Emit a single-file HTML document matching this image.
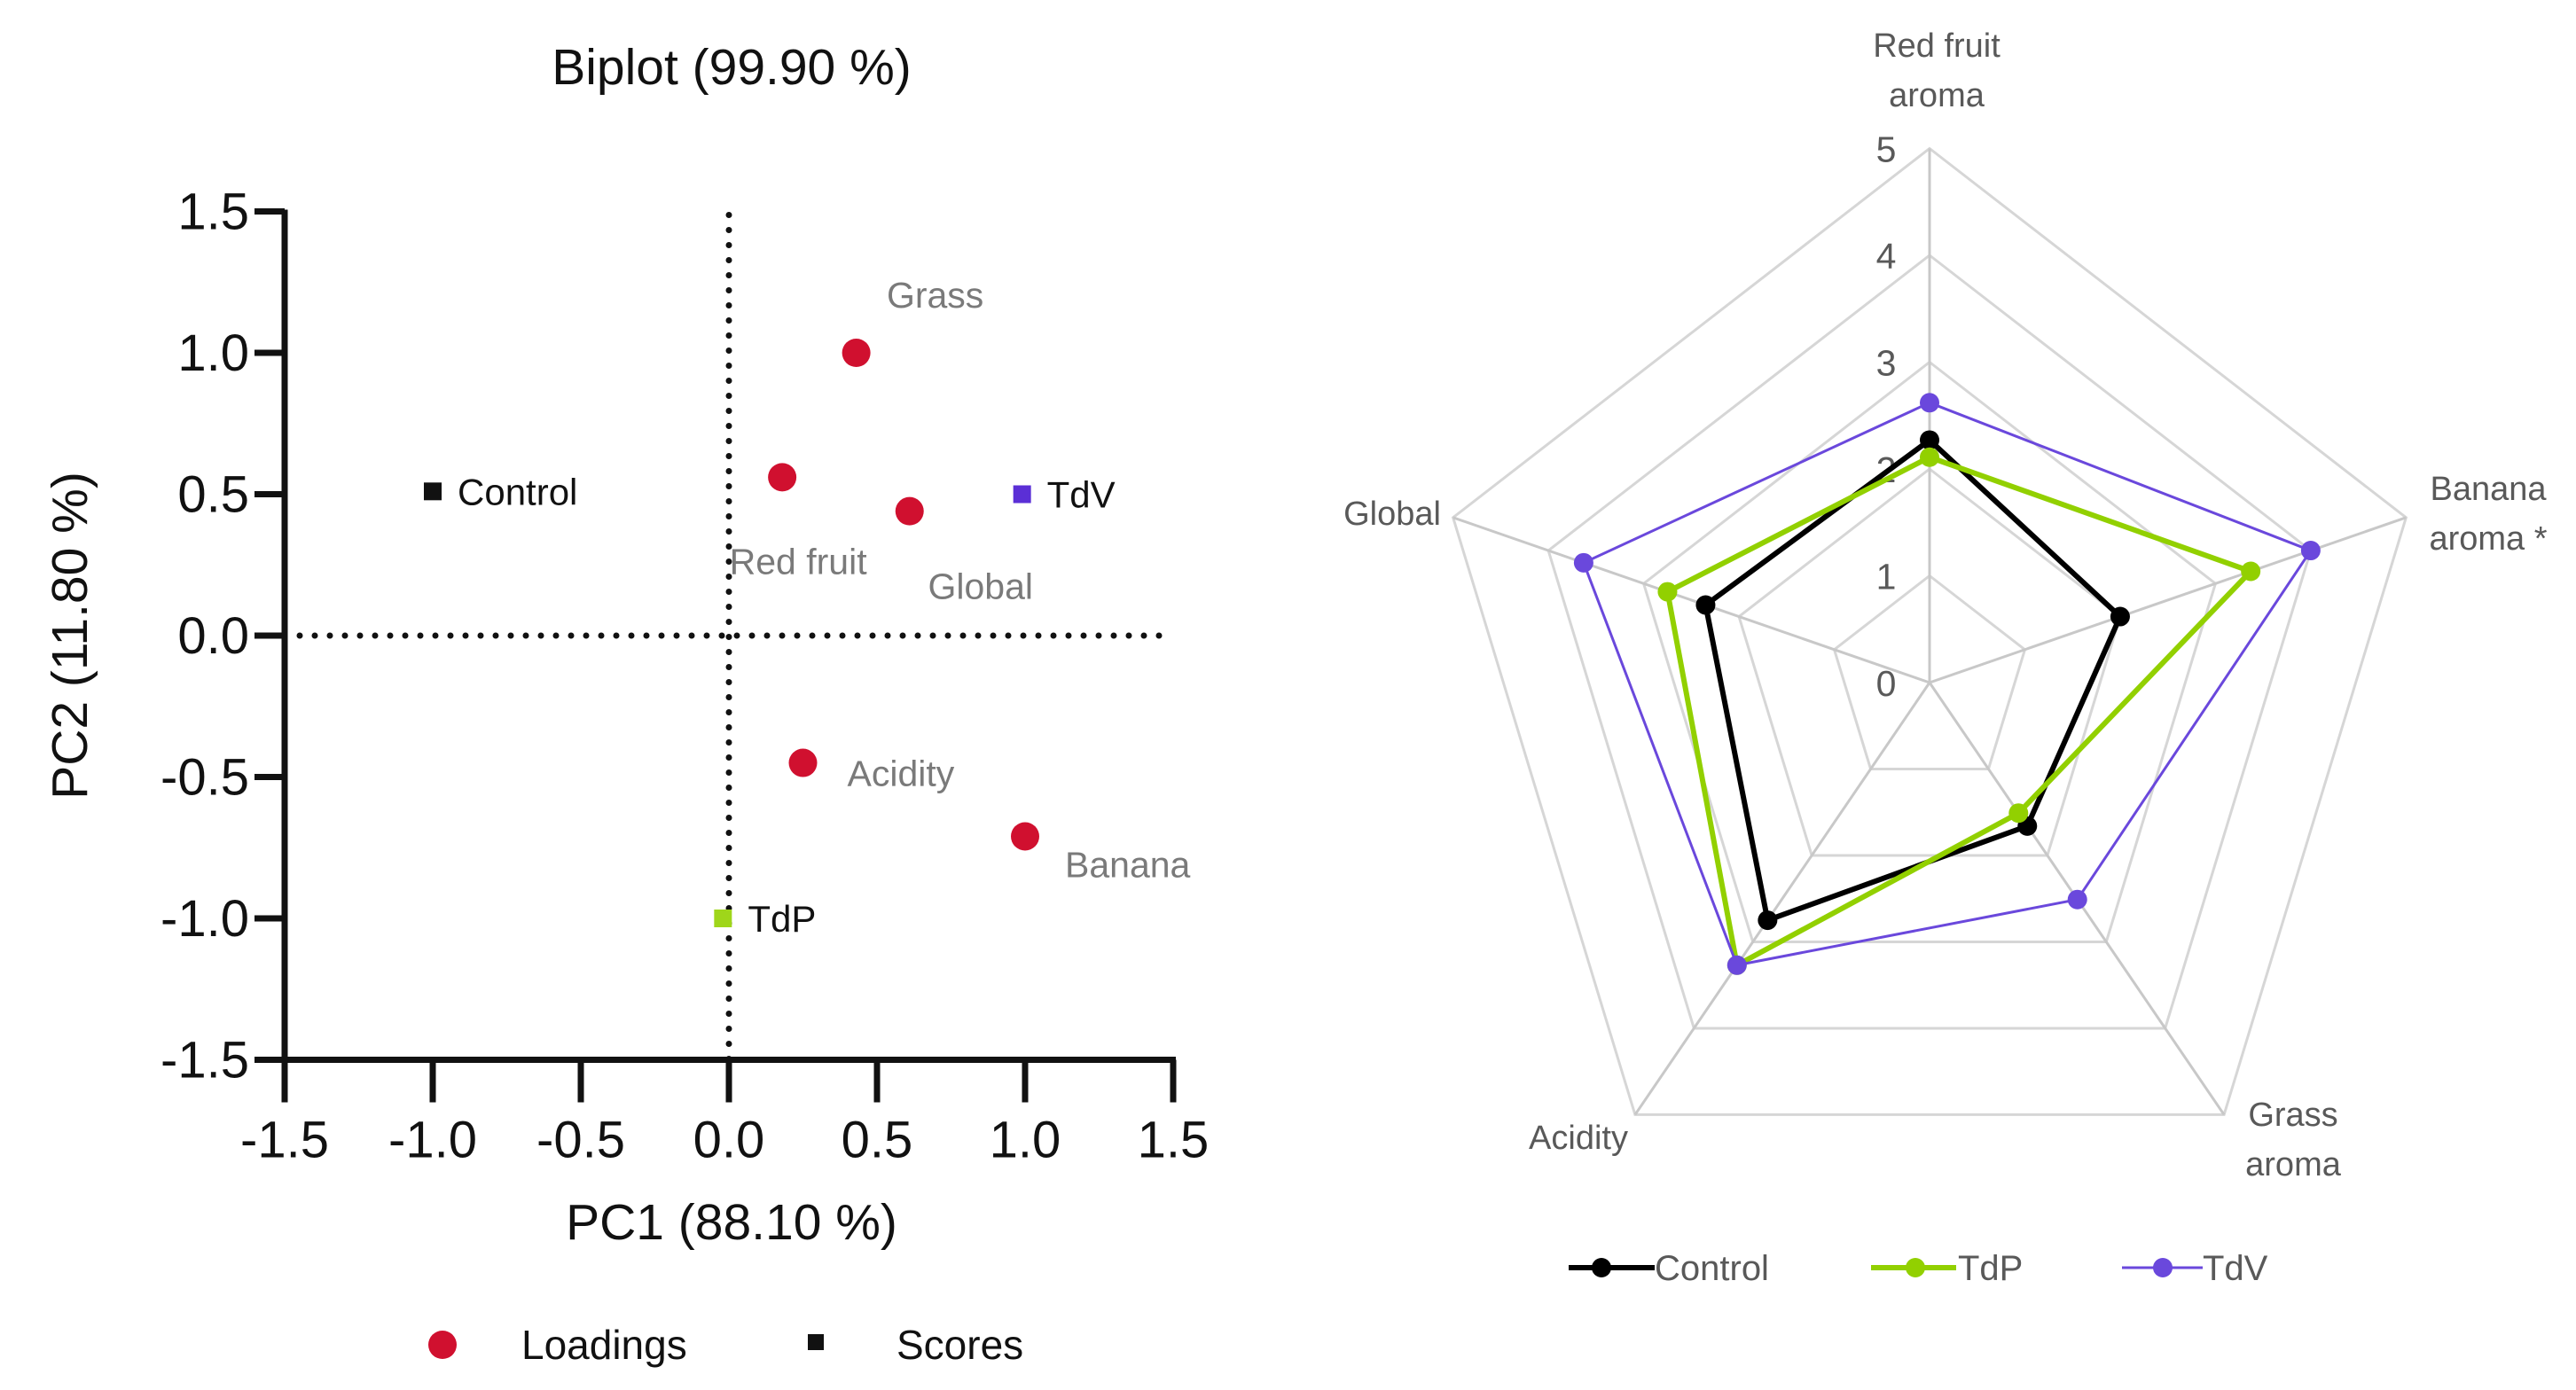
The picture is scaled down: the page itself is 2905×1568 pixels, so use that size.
<!DOCTYPE html>
<html><head><meta charset="utf-8"><style>
html,body{margin:0;padding:0;background:#fff;}
svg{display:block;font-family:"Liberation Sans",Arial,sans-serif;}
</style></head><body>
<svg id="fig" width="2905" height="1568" viewBox="0 0 2905 1568" xmlns="http://www.w3.org/2000/svg">
<g id="biplot"></g>
<g id="radar"></g>
</svg>
<script>
// ---------- Biplot data ----------
const loadNames = ["Grass","Red fruit","Global","Acidity","Banana"];
const loadX = [0.43, 0.18, 0.61, 0.25, 1.00];
const loadY = [1.00, 0.56, 0.44, -0.45, -0.71];
const scoreNames = ["Control","TdV","TdP"];
const scoreX = [-1.00, 0.99, -0.02];
const scoreY = [0.51, 0.50, -1.00];
const scoreColors = ["#111111","#5b2fd6","#9fd61a"];
const bTicks = [-1.5,-1.0,-0.5,0.0,0.5,1.0,1.5];
const bTickLabels = ["-1.5","-1.0","-0.5","0.0","0.5","1.0","1.5"];

// ---------- Radar data ----------
const axesNames = ["Red fruit aroma","Banana aroma *","Grass aroma","Acidity","Global"];
const controlVals = [2.27, 2.0, 1.66, 2.75, 2.35];
const tdpVals = [2.11, 3.37, 1.51, 3.27, 2.75];
const tdvVals = [2.62, 4.0, 2.51, 3.27, 3.63];
const seriesNames = ["Control","TdP","TdV"];
const rTicks = [0,1,2,3,4,5];

const NS="http://www.w3.org/2000/svg";
function mk(parent,tag,attrs,text){const e=document.createElementNS(NS,tag);for(const k in attrs)e.setAttribute(k,attrs[k]);if(text!==undefined)e.textContent=text;parent.appendChild(e);return e;}

// ---- Biplot ----
const B=document.getElementById('biplot');
const x0=822, ux=334, y0=717, uy=319;
const bx=v=>x0+v*ux, by=v=>y0-v*uy;
let t=mk(B,'text',{x:825,y:95,'font-size':57,'text-anchor':'middle',fill:'#111'},'Biplot (99.90 %)');


let dl=mk(B,'line',{x1:bx(0),y1:by(1.5)+4,x2:bx(0),y2:by(-1.5),stroke:'#111','stroke-width':7,'stroke-dasharray':'0 17','stroke-linecap':'round'});


dl=mk(B,'line',{x1:bx(-1.5),y1:by(0),x2:bx(1.5)-8,y2:by(0),stroke:'#111','stroke-width':7,'stroke-dasharray':'0 17','stroke-linecap':'round'});


let ax=mk(B,'path',{d:`M${bx(-1.5)} ${by(1.5)-2} V${by(-1.5)} H${bx(1.5)+3}`,fill:'none',stroke:'#111','stroke-width':7});


bTicks.forEach((v,i)=>{
  let l=mk(B,'line',{x1:bx(-1.5)-34,y1:by(v),x2:bx(-1.5),y2:by(v),stroke:'#111','stroke-width':7});
  
  
  let tl=mk(B,'text',{x:bx(-1.5)-40,y:by(v)+20,'font-size':58,'text-anchor':'end',fill:'#111'},bTickLabels[i]);
  
  
  l=mk(B,'line',{x1:bx(v),y1:by(-1.5),x2:bx(v),y2:by(-1.5)+48,stroke:'#111','stroke-width':7});
  
  
  tl=mk(B,'text',{x:bx(v),y:by(-1.5)+110,'font-size':58,'text-anchor':'middle',fill:'#111'},bTickLabels[i]);
  
  
});
t=mk(B,'text',{x:825,y:1398,'font-size':57,'text-anchor':'middle',fill:'#111'},'PC1 (88.10 %)');


t=mk(B,'text',{x:0,y:0,'font-size':57,'text-anchor':'middle',fill:'#111',transform:'translate(98,717) rotate(-90)'},'PC2 (11.80 %)');


const lblOff=[[89,-65],[18,95],[80,85],[50,12],[45,32]];
const lblAnchor=['middle','middle','middle','start','start'];
loadNames.forEach((n,i)=>{
  const c=mk(B,'circle',{cx:bx(loadX[i]),cy:by(loadY[i]),r:16,fill:'#d0102f'});
  
  
  const tl=mk(B,'text',{x:bx(loadX[i])+lblOff[i][0],y:by(loadY[i])+lblOff[i][1]+14,'font-size':41,'text-anchor':lblAnchor[i],fill:'#7a7a7a'},n);
  
  
});
scoreNames.forEach((n,i)=>{
  const r=mk(B,'rect',{x:bx(scoreX[i])-10,y:by(scoreY[i])-10,width:20,height:20,fill:scoreColors[i]});
  
  
  const tl=mk(B,'text',{x:bx(scoreX[i])+28,y:by(scoreY[i])+15,'font-size':42,fill:'#111'},n);
  
  
});
let lg=mk(B,'circle',{cx:499,cy:1517,r:16,fill:'#d0102f'});


lg=mk(B,'text',{x:588,y:1533,'font-size':46,fill:'#111'},'Loadings');


lg=mk(B,'rect',{x:911,y:1505,width:18,height:18,fill:'#111'});


lg=mk(B,'text',{x:1011,y:1533,'font-size':46,fill:'#111'},'Scores');



// ---- Radar ----
const R=document.getElementById('radar');
const cx=2176, cy=770, rx=113, ry=120.5;
const ang=i=>-Math.PI/2+i*2*Math.PI/5;
const pt=(i,v)=>[cx+Math.cos(ang(i))*v*rx, cy+Math.sin(ang(i))*v*ry];
rTicks.slice(1).forEach(v=>{
  const p=mk(R,'polygon',{points:[0,1,2,3,4].map(i=>pt(i,v).join(',')).join(' '),fill:'none',stroke:'#d6d6d6','stroke-width':3});
  
  
});
[0,1,2,3,4].forEach(i=>{
  const e=pt(i,5);
  const l=mk(R,'line',{x1:cx,y1:cy,x2:e[0],y2:e[1],stroke:'#c8c8c8','stroke-width':3});
  
  
});
rTicks.forEach(v=>{
  const tl=mk(R,'text',{x:2127,y:cy-v*ry+15,'font-size':41,'text-anchor':'middle',fill:'#595959'},String(v));
  
  
});
const labelPos=[[2184,[64,120],'middle'],[2806,[564,620],'middle'],[2586,[1270,1326],'middle'],[1780,[1296],'middle'],[1570,[592],'middle']];
const labelLines=[["Red fruit","aroma"],["Banana","aroma *"],["Grass","aroma"],["Acidity"],["Global"]];
labelLines.forEach((ls,i)=>{
  ls.forEach((s,j)=>{
    const tl=mk(R,'text',{x:labelPos[i][0],y:labelPos[i][1][j],'font-size':38,'text-anchor':'middle',fill:'#595959'},s);
    
    
  });
});
const series=[[controlVals,'#000000',6],[tdpVals,'#92d000',6],[tdvVals,'#6a48dc',3]];
series.forEach((s,k)=>{
  const pts=s[0].map((v,i)=>pt(i,v));
  const pl=mk(R,'polygon',{points:pts.map(p=>p.join(',')).join(' '),fill:'none',stroke:s[1],'stroke-width':s[2],'stroke-linejoin':'round'});
  
  
  pts.forEach(p=>{
    const c=mk(R,'circle',{cx:p[0],cy:p[1],r:11,fill:s[1]});
    
    
  });
});
const legX=[[1769,1866,1806,1866],[2110,2206,2160,2208],[2393,2484,2439,2484]];
series.forEach((s,k)=>{
  const L=legX[k];
  let l=mk(R,'line',{x1:L[0],y1:1430,x2:L[1],y2:1430,stroke:s[1],'stroke-width':s[2]});
  
  
  l=mk(R,'circle',{cx:L[2],cy:1430,r:11,fill:s[1]});
  
  
  l=mk(R,'text',{x:L[3],y:1444,'font-size':40,fill:'#595959'},seriesNames[k]);
  
  
});
</script>
</body></html>
